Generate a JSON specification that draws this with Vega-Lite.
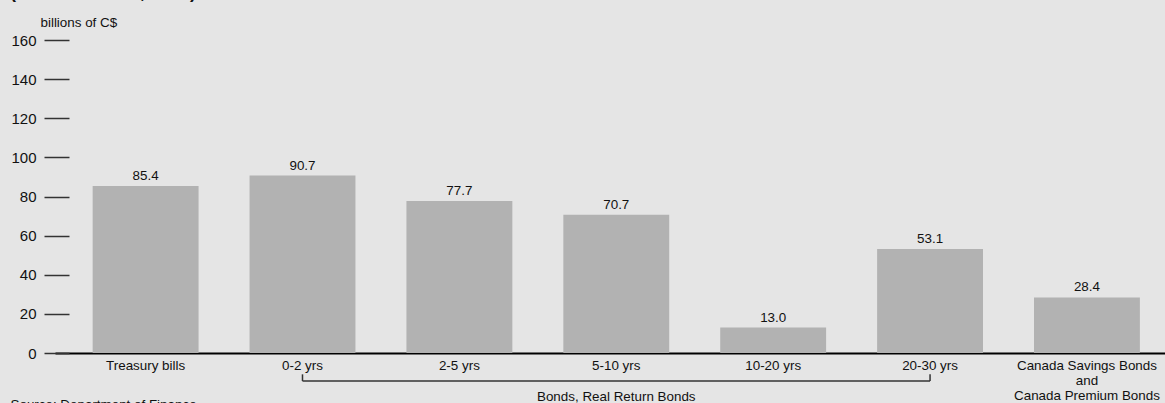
{
  "$schema": "https://vega.github.io/schema/vega-lite/v6.json",
  "width": 1110,
  "height": 313,
  "autosize": "none",
  "padding": {"left": 55, "top": 40, "right": 0, "bottom": 50},
  "background": "#e5e5e5",
  "config": {"view": {"stroke": null}, "font": "Liberation Sans"},
  "title": {"text": "(as at March 31, 2010)", "anchor": "start", "frame": "bounds", "fontSize": 18, "fontWeight": "bold", "color": "#111", "offset": 13},
  "resolve": {"axis": {"x": "independent", "y": "independent"}},
  "datasets": {
    "bars": [
      {"category": "Treasury bills", "value": 85.4},
      {"category": "0-2 yrs", "value": 90.7},
      {"category": "2-5 yrs", "value": 77.7},
      {"category": "5-10 yrs", "value": 70.7},
      {"category": "10-20 yrs", "value": 13.0},
      {"category": "20-30 yrs", "value": 53.1},
      {"category": "Canada Savings Bonds|and|Canada Premium Bonds", "value": 28.4}
    ],
    "bracket": [
      {"category": "0-2 yrs", "category2": "20-30 yrs", "y": -14.3, "y2": -14.3},
      {"category": "0-2 yrs", "category2": "0-2 yrs", "y": -14.3, "y2": -10.9},
      {"category": "20-30 yrs", "category2": "20-30 yrs", "y": -14.3, "y2": -10.9}
    ],
    "group": [
      {"category": "5-10 yrs", "y": -22.3, "label": "Bonds, Real Return Bonds"}
    ]
  },
  "layer": [
    {
      "data": {"name": "bars"},
      "mark": {"type": "bar", "color": "#b2b2b2"},
      "encoding": {
        "x": {
          "field": "category", "type": "nominal",
          "scale": {"domain": ["Treasury bills", "0-2 yrs", "2-5 yrs", "5-10 yrs", "10-20 yrs", "20-30 yrs", "Canada Savings Bonds|and|Canada Premium Bonds"], "paddingInner": 0.325, "paddingOuter": 0.2, "align": 0.6},
          "axis": {
            "title": "Source: Department of Finance",
            "titleX": -45, "titleY": 44, "titleAlign": "left", "titleAnchor": null, "titleBaseline": "top",
            "titleFontSize": 13.4, "titleFontWeight": "normal", "titleColor": "#111",
            "labelAngle": 0, "labelFontSize": 13.4, "labelColor": "#111", "labelPadding": 5,
            "labelExpr": "split(datum.label, '|')", "labelLineHeight": 15, "labelOverlap": false,
            "ticks": false, "domainColor": "#000", "domainWidth": 2
          }
        },
        "y": {
          "field": "value", "type": "quantitative",
          "scale": {"domain": [0, 160], "nice": false},
          "axis": {
            "title": "billions of C$", "titleAngle": 0, "titleX": -29, "titleY": -18,
            "titleAlign": "left", "titleBaseline": "middle", "titleFontSize": 13.4, "titleFontWeight": "normal", "titleColor": "#111",
            "values": [0, 20, 40, 60, 80, 100, 120, 140, 160], "tickCount": 9,
            "offset": -14, "domain": false, "grid": false, "labelOverlap": false,
            "tickSize": 25, "tickColor": "#333", "tickWidth": 1.5,
            "labelFontSize": 15, "labelColor": "#111", "labelPadding": 8
          }
        }
      }
    },
    {
      "data": {"name": "bars"},
      "mark": {"type": "text", "baseline": "alphabetic", "dy": -6, "fontSize": 13.4, "color": "#111"},
      "encoding": {
        "x": {"field": "category", "type": "nominal", "axis": null},
        "y": {"field": "value", "type": "quantitative", "axis": null},
        "text": {"field": "value", "type": "quantitative", "format": ".1f"}
      }
    },
    {
      "data": {"name": "bracket"},
      "mark": {"type": "rule", "color": "#333", "strokeWidth": 1.5},
      "encoding": {
        "x": {"field": "category", "type": "nominal", "axis": null},
        "x2": {"field": "category2"},
        "y": {"field": "y", "type": "quantitative", "axis": null},
        "y2": {"field": "y2"}
      }
    },
    {
      "data": {"name": "group"},
      "mark": {"type": "text", "baseline": "middle", "fontSize": 13.4, "color": "#111"},
      "encoding": {
        "x": {"field": "category", "type": "nominal", "axis": null},
        "y": {"field": "y", "type": "quantitative", "axis": null},
        "text": {"field": "label"}
      }
    }
  ]
}
